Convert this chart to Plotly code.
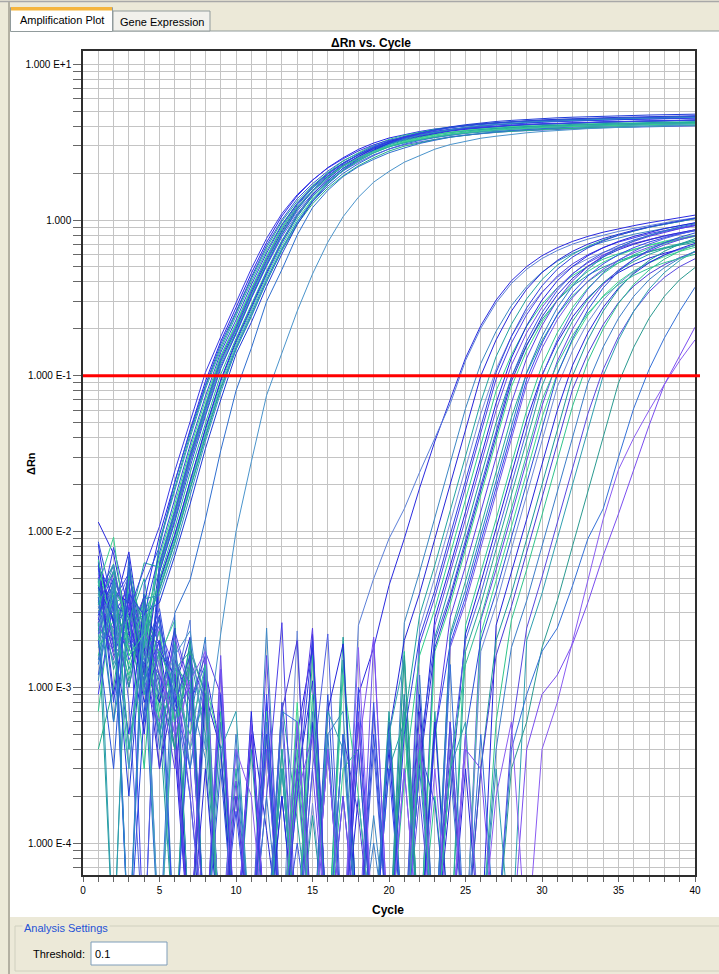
import math
import plotly.graph_objects as go

# ---------------------------------------------------------------
# qPCR amplification plot: delta Rn per cycle for every well
# All well values are delta Rn in units of 1e-3 (milli delta Rn)
# ---------------------------------------------------------------
cycles = list(range(1, 41))
threshold = 0.1
MILLI = 1e-3
FLOOR = 2e-5          # values at or below zero are drawn just under the visible range

# early-amplifying wells (high template)
early_01 = [8.3, 1.9, 0.5, 3.5, 9.5, 21, 45, 92, 166, 274, 454, 718, 1060, 1430, 1800, 2170, 2510, 2840, 3120, 3360, 3540, 3700, 3840, 3960, 4050, 4130, 4200, 4260, 4310, 4350, 4380, 4420, 4450, 4470, 4490, 4520, 4540, 4560, 4580, 4600]
early_02 = [2.6, -0.4, 5.9, 1.0, 8.7, 19, 42, 85, 153, 253, 419, 663, 980, 1320, 1660, 2010, 2320, 2620, 2890, 3100, 3270, 3420, 3550, 3660, 3740, 3820, 3880, 3930, 3980, 4020, 4050, 4080, 4110, 4130, 4150, 4170, 4190, 4210, 4230, 4250]
early_03 = [8.6, 3.3, -0.6, 4.6, 8, 21, 44, 87, 160, 258, 430, 688, 1005, 1370, 1710, 2060, 2400, 2690, 2980, 3190, 3380, 3520, 3660, 3770, 3860, 3940, 4000, 4060, 4100, 4140, 4170, 4210, 4230, 4260, 4280, 4300, 4320, 4340, 4360, 4380]
early_04 = [0.7, 4.4, 2.8, 0.3, 6.4, 14, 32, 66, 133, 212, 360, 583, 900, 1270, 1640, 2010, 2390, 2700, 3020, 3290, 3500, 3660, 3820, 3940, 4050, 4130, 4210, 4270, 4320, 4370, 4410, 4440, 4470, 4500, 4530, 4550, 4570, 4590, 4610, 4630]
early_05 = [7.0, 0.9, 3.9, 1.2, 6, 13, 30, 62, 125, 200, 340, 550, 850, 1200, 1550, 1900, 2250, 2550, 2850, 3100, 3300, 3450, 3600, 3720, 3820, 3900, 3970, 4030, 4080, 4120, 4160, 4190, 4220, 4250, 4270, 4290, 4310, 4330, 4350, 4370]
early_06 = [3.2, 6.1, 0.4, 2.7, 5.7, 12, 28, 59, 119, 190, 323, 523, 808, 1140, 1470, 1800, 2140, 2420, 2710, 2950, 3140, 3280, 3420, 3530, 3630, 3710, 3770, 3830, 3880, 3910, 3950, 3980, 4010, 4040, 4060, 4080, 4090, 4110, 4130, 4150]
early_07 = [0.9, 3.6, 5.4, -0.8, 6.2, 13.5, 31, 64, 129, 206, 350, 567, 876, 1240, 1600, 1960, 2320, 2630, 2940, 3190, 3400, 3550, 3710, 3830, 3930, 4020, 4090, 4150, 4200, 4240, 4280, 4320, 4350, 4380, 4400, 4420, 4440, 4460, 4480, 4500]
early_08 = [4.8, 0.6, 2.5, 6.3, 5.9, 12.7, 29, 61, 123, 196, 333, 539, 833, 1180, 1520, 1860, 2210, 2500, 2790, 3040, 3230, 3380, 3530, 3650, 3740, 3820, 3890, 3950, 4000, 4040, 4080, 4110, 4140, 4170, 4180, 4200, 4220, 4240, 4260, 4280]
early_09 = [2.9, 5.0, -1.2, 0.7, 4.7, 9.4, 21, 45, 92, 164, 271, 449, 711, 1050, 1420, 1780, 2150, 2490, 2810, 3090, 3330, 3510, 3670, 3810, 3920, 4010, 4090, 4160, 4220, 4260, 4310, 4340, 4370, 4400, 4430, 4450, 4470, 4490, 4510, 4530]
early_10 = [6.6, 2.0, 0.3, 3.1, 4.5, 9, 20, 43, 88, 158, 261, 432, 684, 1010, 1364, 1716, 2068, 2395, 2700, 2975, 3200, 3375, 3525, 3660, 3770, 3860, 3935, 4000, 4055, 4100, 4140, 4175, 4205, 4235, 4260, 4280, 4300, 4320, 4340, 4360]
early_11 = [1.4, 3.8, -0.9, 2.6, 4.3, 8.6, 19, 41, 84, 152, 251, 415, 657, 970, 1310, 1650, 1990, 2300, 2590, 2860, 3070, 3240, 3380, 3510, 3620, 3710, 3780, 3840, 3890, 3940, 3970, 4010, 4040, 4070, 4090, 4110, 4130, 4150, 4170, 4190]
early_12 = [11.5, 7.2, 2.3, 0.5, 4.8, 9.6, 21, 46, 94, 169, 279, 462, 732, 1080, 1460, 1840, 2210, 2560, 2890, 3180, 3420, 3610, 3770, 3920, 4030, 4130, 4210, 4280, 4340, 4390, 4430, 4470, 4500, 4530, 4560, 4580, 4600, 4620, 4640, 4670]
early_13 = [5.0, -0.6, 6.4, 1.8, 8.4, 18.6, 40, 82, 147, 243, 402, 636, 940, 1270, 1600, 1920, 2230, 2510, 2770, 2980, 3140, 3280, 3400, 3510, 3590, 3660, 3720, 3770, 3810, 3850, 3880, 3910, 3940, 3960, 3980, 4000, 4020, 4040, 4050, 4070]
early_14 = [2.2, 4.7, 0.8, -0.4, 5.5, 12, 28, 57, 115, 184, 313, 506, 782, 1100, 1430, 1750, 2070, 2350, 2620, 2850, 3040, 3170, 3310, 3420, 3510, 3590, 3650, 3710, 3750, 3790, 3830, 3850, 3880, 3910, 3930, 3950, 3970, 3980, 4000, 4020]
early_15 = [0.4, 1.0, 5.2, 2.4, 4.2, 8.4, 18.6, 40, 82, 147, 243, 402, 636, 940, 1270, 1600, 1920, 2230, 2510, 2770, 2980, 3140, 3280, 3400, 3510, 3590, 3660, 3720, 3770, 3810, 3850, 3880, 3910, 3940, 3960, 3980, 4000, 4020, 4040, 4050]
early_16 = [4.4, 2.7, 0.2, 3.0, 3.5, 7, 15, 34, 70, 138, 220, 374, 605, 935, 1320, 1700, 2090, 2470, 2800, 3130, 3400, 3620, 3790, 3960, 4090, 4200, 4290, 4360, 4430, 4490, 4530, 4570, 4610, 4640, 4670, 4690, 4720, 4740, 4760, 4780]
early_17 = [3.8, 0.6, 5.9, 1.3, -0.5, 3.0, 4.9, 12, 33, 80, 150, 300, 480, 800, 1200, 1550, 1900, 2200, 2450, 2700, 2900, 3100, 3250, 3400, 3500, 3600, 3680, 3750, 3810, 3860, 3910, 3950, 3990, 4020, 4050, 4080, 4100, 4120, 4140, 4160]
early_18 = [2.4, 4.5, 0.3, 3.1, -0.7, 1.6, 2.3, 0.4, 2.2, 10, 28, 75, 140, 260, 450, 720, 1050, 1400, 1750, 2050, 2350, 2600, 2850, 3050, 3200, 3350, 3450, 3550, 3630, 3700, 3760, 3810, 3860, 3900, 3940, 3970, 4000, 4030, 4050, 4070]
early_19 = [6.1, 0.8, 4.0, 2.9, 7.3, 16, 36, 74, 141, 228, 383, 613, 927, 1279, 1631, 1982, 2321, 2624, 2912, 3149, 3337, 3487, 3630, 3745, 3840, 3917, 3985, 4042, 4090, 4130, 4167, 4197, 4227, 4255, 4275, 4295, 4315, 4335, 4355, 4375]
early_20 = [3.4, 5.6, 0.4, 1.9, 5.0, 10.5, 23.8, 50, 102, 173, 289, 472, 739, 1068, 1410, 1752, 2092, 2397, 2691, 2946, 3153, 3310, 3455, 3579, 3681, 3764, 3833, 3895, 3945, 3987, 4026, 4057, 4086, 4115, 4137, 4156, 4176, 4195, 4215, 4234]
early_21 = [2.7, 7.9, 3.1, 5.8, 10.8, 24.5, 51.6, 105, 178, 298, 487, 762, 1101, 1454, 1806, 2157, 2471, 2774, 3037, 3250, 3412, 3562, 3690, 3795, 3880, 3952, 4015, 4067, 4110, 4150, 4182, 4212, 4242, 4265, 4285, 4305, 4325, 4345, 4365, 4385]
early_22 = [1.1, 4.9, -0.3, 3.7, 3.9, 7.7, 17, 38, 78, 148, 239, 402, 644, 973, 1343, 1713, 2081, 2437, 2755, 3058, 3306, 3504, 3661, 3812, 3932, 4032, 4113, 4184, 4244, 4295, 4337, 4375, 4407, 4438, 4468, 4489, 4510, 4531, 4552, 4573]
early_23 = [4.5, 9.2, 1.6, 2.2, 6.9, 15, 34, 70, 134, 217, 364, 582, 881, 1215, 1549, 1883, 2205, 2493, 2766, 2992, 3170, 3313, 3449, 3558, 3648, 3721, 3786, 3840, 3886, 3924, 3959, 3987, 4016, 4042, 4061, 4080, 4099, 4118, 4137, 4156]
early_24 = [2.0, 0.3, 6.9, 0.6, 5.5, 11.5, 26, 55, 111, 189, 316, 516, 808, 1167, 1541, 1914, 2286, 2619, 2940, 3219, 3445, 3617, 3776, 3911, 4023, 4113, 4189, 4256, 4311, 4357, 4399, 4433, 4465, 4497, 4521, 4542, 4563, 4585, 4606, 4627]

# late-amplifying wells (low template)
late_01 = [5.8, 3.1, 7.4, 1.6, 2.9, 0.6, -0.9, 1.3, 0.4, -1.6, -0.3, 0.8, -0.5, 0.25, 1.1, -1.2, -0.4, 0.9, 1.8, 4.5, 9, 19, 38, 70, 130, 210, 306, 407, 503, 590, 664, 729, 785, 835, 880, 920, 960, 1000, 1040, 1075]
late_02 = [4.2, 6.0, 1.8, 3.3, -0.4, 1.0, 2.7, -1.1, -0.5, -0.6, -0.7, -0.2, 0.6, -0.2, -0.9, -0.3, -1.0, 2.5, 5, 9, 14, 24, 40, 66, 125, 202, 294, 391, 483, 566, 637, 700, 754, 802, 845, 883, 922, 960, 998, 1032]
late_03 = [3.5, 2.0, 4.6, 1.2, 2.8, -0.6, 0.9, 0.35, -1.4, 0.2, -0.8, 2.4, -0.8, -0.3, -0.5, 0.5, 0.7, -1.3, 0.15, -0.4, 2.6, 5.5, 12.3, 27.6, 61.6, 120, 193, 282, 374, 463, 543, 611, 671, 722, 768, 810, 846, 883, 920, 957]
late_04 = [6.3, 2.5, 1.7, 3.9, 0.8, 1.9, -0.5, 0.3, -1.1, -1.8, 0.6, 0.12, -0.4, -0.7, 2.2, -0.9, 0.2, -0.3, -0.6, 0.5, 2.0, 4, 9, 20, 45, 100, 170, 260, 360, 460, 550, 630, 700, 760, 810, 860, 900, 940, 980, 1020]
late_05 = [2.1, 4.9, 3.0, 0.6, 1.5, 2.9, -1.0, 0.7, -0.2, -0.3, -0.9, -1.5, -0.4, -0.6, 0.18, -0.7, -0.2, -1.3, -0.2, -0.3, -1.1, 2.4, 5.1, 11.4, 25.5, 57, 110, 179, 260, 346, 428, 502, 564, 620, 667, 710, 748, 782, 816, 850]
late_06 = [4.7, 1.3, 2.6, 5.0, 1.1, -0.2, 1.6, 0.5, -0.8, 0.3, -1.7, -0.4, 0.8, 0.14, -0.5, -0.1, 1.5, -1.4, -0.3, 0.3, 0.6, 2.9, 6.1, 13.7, 31, 68, 133, 214, 312, 415, 513, 602, 677, 744, 801, 852, 898, 938, 979, 1020]
late_07 = [3.0, 5.6, 2.2, 1.4, 0.5, 2.3, 1.0, -1.3, 0.6, -0.5, -0.4, 0.2, 2.6, -1.1, -0.3, 0.4, -0.6, -0.2, 0.7, -0.9, -0.2, 1.9, 3.8, 8.6, 19, 43, 95, 162, 247, 342, 437, 523, 599, 665, 722, 770, 817, 855, 893, 931]
late_08 = [1.6, 3.4, 4.1, 2.0, -0.3, 1.2, 0.4, 0.9, -1.6, -0.2, -0.35, -0.5, -0.8, 0.3, -1.2, -0.6, -0.3, -0.1, -1.0, -0.7, 0.25, 1.6, 3.2, 7.2, 16, 36, 80, 136, 208, 288, 368, 440, 504, 560, 608, 648, 688, 720, 752, 784]
late_09 = [5.1, 2.7, 1.0, 3.1, 1.9, 0.4, -0.8, 1.5, -0.6, -0.2, 0.7, -1.4, -0.3, 0.5, 1.8, -0.6, -0.9, 0.2, -1.0, 0.6, -0.4, 0.3, 2.8, 6, 13.4, 30, 67, 130, 210, 306, 407, 503, 590, 664, 729, 785, 835, 880, 920, 960]
late_10 = [2.8, 1.5, 3.7, 0.9, 2.4, 1.3, 0.2, -1.2, -1.0, -0.4, -0.5, -0.6, -0.2, -0.9, 0.3, -0.22, -0.3, -1.1, -0.5, -1.5, 0.9, -0.2, 2.5, 5.4, 12, 27, 60, 117, 189, 275, 366, 453, 531, 598, 656, 707, 752, 792, 828, 864]
late_11 = [3.9, 6.2, 1.9, 2.5, 0.6, -0.4, 1.8, 0.9, -0.7, -0.3, 0.4, -1.8, 0.4, -0.5, 0.15, -0.2, 2.1, -1.0, -0.3, 0.7, -0.6, -0.5, 2.1, 4.5, 10, 22.5, 50, 98, 158, 230, 305, 377, 443, 498, 547, 589, 626, 660, 690, 720]
late_12 = [1.2, 4.4, 2.9, 1.7, 3.2, 0.8, 1.4, -0.6, -0.3, -0.7, -1.2, -0.9, -0.4, 0.1, -0.4, -0.5, -0.6, -0.9, 0.8, -0.2, -0.3, 0.4, 2.0, 3.9, 8.8, 19.6, 44, 98, 167, 255, 353, 451, 539, 617, 686, 745, 794, 843, 882, 921]
late_13 = [5.4, 3.0, 2.1, 0.9, 1.6, 2.7, -0.5, 1.1, 0.4, -1.4, -0.3, 0.7, -0.2, 0.25, -0.8, -0.5, 1.2, 0.2, -1.1, -0.4, 0.6, -0.4, 1.7, 3.4, 7.7, 17, 38, 85, 145, 221, 306, 391, 468, 536, 595, 646, 689, 731, 765, 799]
late_14 = [2.4, 2.0, 5.3, 1.8, 0.3, 1.0, 2.1, -0.9, -0.6, -0.2, -0.6, -0.6, -1.0, -1.6, -0.2, 0.4, -0.3, -0.13, -0.5, -0.8, -0.6, 0.3, 1.8, 3.7, 8.3, 18.4, 41, 92, 156, 239, 331, 423, 506, 580, 644, 699, 745, 791, 828, 865]
late_15 = [4.5, 1.8, 3.3, 2.6, 1.2, 0.5, -1.0, 1.7, 0.9, -0.3, -0.7, 0.4, -1.3, 0.3, 2.4, -0.5, -0.2, 0.6, -0.4, -0.7, 0.3, -0.3, 0.5, 2.8, 6, 13.4, 30, 67, 130, 210, 306, 407, 503, 590, 664, 729, 785, 835, 880, 920]
late_16 = [2.0, 3.6, 1.1, 4.0, 0.7, 1.5, 0.9, -0.4, -0.5, -1.5, -0.6, -0.2, 0.3, -0.7, -0.4, -0.8, -1.2, -0.2, -0.4, -0.2, 0.7, -0.9, -0.1, 2.2, 4.8, 10.7, 24, 54, 104, 168, 245, 326, 402, 472, 531, 583, 628, 668, 704, 736]
late_17 = [6.0, 3.8, 1.5, 2.2, 1.9, -0.7, 0.8, 1.4, -0.2, 0.16, -0.5, 0.9, -1.0, 0.6, -0.3, -0.6, -0.6, 1.0, -0.4, 0.3, -0.2, -0.3, 0.5, 1.9, 3.8, 8.6, 19, 43, 95, 162, 247, 342, 437, 523, 599, 665, 722, 770, 817, 855]
late_18 = [3.3, 2.4, 4.8, 0.9, 2.0, 1.1, 0.3, -1.1, 1.6, -0.4, -0.6, 0.4, -0.2, -0.3, 0.6, -1.4, 0.2, -0.5, 2.0, -0.5, -0.3, 0.4, -0.6, 1.8, 3.5, 7.9, 17.6, 40, 88, 150, 229, 317, 405, 484, 554, 616, 669, 713, 757, 792]
late_19 = [1.5, 5.0, 2.7, 3.4, 0.4, 1.7, 0.6, 2.1, -0.8, -0.3, -0.4, -1.2, -0.8, -0.3, -0.4, 0.5, -0.1, -0.9, -0.3, -0.7, -0.2, 0.4, -0.5, 2.1, 4.2, 9.5, 21, 47, 105, 179, 273, 378, 483, 578, 662, 735, 798, 851, 903, 945]
late_20 = [4.0, 2.3, 1.2, 2.9, 1.4, 0.6, 1.9, -0.5, 0.7, -1.3, -0.2, 0.5, -0.6, -0.1, 0.9, -0.7, 0.3, 0.4, -1.0, -0.2, 1.7, -0.3, 0.2, -0.4, 2.5, 5.4, 12, 27, 60, 117, 189, 275, 366, 453, 531, 598, 656, 707, 752, 792]
late_21 = [2.6, 4.1, 3.5, 1.3, 0.8, 2.4, -0.3, 1.2, -0.5, -0.5, -0.9, -0.2, -0.4, -0.5, 0.6, -0.4, -1.6, -0.3, -0.3, -0.2, -0.4, 0.9, -0.6, 0.2, 2.2, 4.7, 10.5, 23, 52, 101, 164, 239, 317, 392, 460, 518, 569, 612, 651, 686]
late_22 = [5.7, 1.9, 2.8, 1.0, 1.8, 0.9, 0.2, -0.8, 1.3, -0.3, -0.4, 0.6, -1.1, -0.2, 0.3, 2.2, -0.2, -0.6, 0.4, -0.9, -0.3, 0.5, -0.1, 0.3, 2.0, 4, 9, 20, 45, 100, 170, 260, 360, 460, 550, 630, 700, 760, 810, 860]
late_23 = [3.1, 3.9, 1.6, 2.3, 0.5, 1.3, 1.7, -0.6, -0.4, -0.2, -0.5, -0.9, 0.4, -1.3, -0.3, -0.5, -0.5, -0.2, -0.7, -0.6, -0.8, -0.2, 0.7, -0.3, 1.7, 3.4, 7.7, 17, 39, 86, 146, 224, 310, 396, 473, 542, 602, 654, 697, 740]
late_24 = [2.2, 2.9, 4.4, 1.9, 1.1, 0.3, 1.5, 0.8, -1.0, 0.25, -0.4, 1.6, -0.7, 0.3, -0.5, -0.3, -0.4, 0.7, -1.2, 0.5, -0.3, 0.2, -0.3, 0.6, -0.2, 2.7, 5.7, 12.7, 28.5, 64, 124, 200, 291, 387, 478, 561, 631, 693, 746, 793]
late_25 = [4.9, 2.2, 1.4, 3.6, 0.6, 2.0, -0.5, 0.9, -0.3, -0.3, -0.5, -0.8, -1.4, 0.8, -0.3, -0.4, -0.5, -0.6, -1.9, -0.2, -0.2, 0.4, -0.6, -0.3, -0.4, 2.2, 4.8, 10.7, 24, 54, 104, 168, 245, 326, 402, 472, 531, 583, 628, 668]
late_26 = [3.6, 1.7, 2.5, 1.4, 2.8, 0.7, 1.0, -0.9, 0.3, -0.6, 0.6, -0.5, 0.2, -0.4, -1.0, 0.9, -0.2, -0.2, 0.5, -0.3, -0.7, 0.4, 0.18, -0.3, 0.5, 2.0, 4.1, 9.2, 20, 46, 102, 173, 265, 367, 469, 561, 643, 714, 775, 826]
late_27 = [1.9, 3.2, 5.2, 2.1, 0.9, 1.6, 0.4, 1.9, -0.6, -0.7, -1.3, -0.3, -0.3, 2.3, -0.4, -0.6, -0.2, -0.5, -0.8, -0.5, -0.4, -0.1, -0.4, 0.5, -0.2, 1.7, 3.4, 7.7, 17, 38, 85, 145, 221, 306, 391, 468, 536, 595, 646, 689]
late_28 = [6.4, 2.6, 3.1, 0.8, 1.7, 1.2, -0.4, 0.9, 0.4, -0.9, 0.5, -0.5, 0.2, -0.6, -0.4, 0.7, 1.9, -1.1, -0.3, 0.4, -0.5, -0.3, 0.6, -0.2, 0.3, -0.4, 2.5, 5.4, 12, 27, 60, 117, 189, 275, 366, 453, 531, 598, 656, 707]
late_29 = [2.9, 4.6, 1.3, 2.7, 1.0, 0.4, 2.0, -0.7, -1.1, -0.5, -0.2, -0.7, 0.3, -1.5, -0.3, -0.6, -0.3, -0.5, -0.4, -0.2, 0.9, -0.4, -0.2, -0.5, -0.6, 0.3, 2.0, 4, 9, 20, 45, 100, 170, 260, 360, 460, 550, 630, 700, 760]
late_30 = [4.3, 1.6, 2.2, 3.8, 0.3, 1.5, 0.8, 1.6, -0.9, 0.2, -0.3, -0.4, 0.7, 2.0, -0.8, -0.4, 0.5, 0.15, -0.3, -0.6, -1.0, 0.7, -0.3, 0.4, -0.2, 0.3, 1.6, 3.3, 7.4, 16.4, 37, 82, 139, 213, 295, 377, 451, 517, 574, 623]
late_31 = [3.4, 3.0, 1.8, 1.1, 2.3, 0.6, 1.4, -0.5, -0.8, -0.4, -1.1, -0.4, -0.3, -0.3, 1.6, -0.6, -0.5, -0.2, -0.4, -0.3, -0.8, 0.5, -0.7, -0.4, -0.3, -0.2, 0.6, 2.7, 5.7, 12.7, 28.5, 64, 124, 200, 291, 387, 478, 561, 631, 693]
late_32 = [5.0, 2.0, 3.9, 1.5, 0.9, 1.8, 0.3, 1.2, -0.8, 0.5, -0.5, 0.2, -0.4, -0.3, 0.7, -1.2, 0.5, -0.4, 0.1, -0.6, -0.6, 1.2, -0.3, 0.3, -0.2, -0.5, 0.4, 1.8, 3.6, 8.1, 18, 40.5, 90, 153, 234, 324, 414, 495, 567, 630]
late_33 = [2.3, 5.5, 2.4, 1.7, 1.2, 0.7, -0.3, 1.5, -0.6, -0.4, -0.9, -0.4, 0.8, -0.5, -0.4, -0.6, -0.2, -1.3, -0.3, -1.1, -0.3, -0.2, -0.5, 0.6, -0.4, -0.4, -0.2, 0.5, 2.4, 5.1, 11.4, 25.5, 57, 110, 179, 260, 346, 428, 502, 564]
late_34 = [3.8, 1.4, 2.6, 2.9, 0.5, 1.3, 1.1, -0.6, 0.4, 0.7, -0.5, -1.0, 0.3, -0.4, -0.3, 0.7, 0.4, -0.6, -0.8, 0.5, 1.5, -0.2, -0.5, 0.3, 0.6, -0.3, 0.3, -0.2, 2.0, 4, 9, 20, 45, 100, 170, 260, 360, 460, 550, 630]
late_35 = [4.6, 2.8, 1.0, 3.2, 1.6, 0.4, 1.7, 0.9, -0.7, -0.3, -0.2, -0.5, -0.5, 0.6, -0.3, -1.1, -0.5, -0.2, -0.3, -0.4, 1.6, -0.4, -0.2, -0.4, -0.6, -0.4, -0.6, 0.3, 0.6, 1.8, 3.6, 8.1, 18, 40.5, 90, 153, 234, 324, 414, 495]
late_36 = [3.0, 4.2, 2.0, 1.5, 2.5, 0.8, 0.3, 1.4, -0.6, 0.4, -0.4, -1.2, 0.7, 0.6, -0.2, -0.4, 0.5, -0.6, -0.8, 0.5, -0.3, 0.3, -0.2, 1.4, -0.4, 0.5, -0.5, 0.4, 0.9, 1.7, 2.4, 4.5, 9, 14, 30, 62, 110, 175, 260, 370]
late_37 = [2.5, 1.7, 3.4, 1.0, 0.6, 2.1, 0.9, -0.4, 1.3, -0.3, 0.6, -0.9, -0.2, 0.2, 0.5, -0.6, -0.4, 0.4, 2.1, -0.3, -0.4, 0.5, -1.0, -0.3, 0.4, 0.3, -0.2, -0.5, 0.4, 0.9, 1.2, 1.9, 3.5, 7, 13, 25, 48, 88, 135, 205]
late_38 = [5.3, 2.2, 1.9, 2.4, 1.4, 0.5, 1.1, 1.7, -0.5, 0.4, 0.2, -0.6, -0.8, 0.6, -0.3, 0.4, -0.3, 1.8, -0.4, -1.2, 0.3, -0.2, 0.3, -0.4, 0.5, -0.5, 0.2, 0.6, -0.6, 0.4, 0.8, 2.0, 5.0, 12, 25, 40, 60, 88, 125, 170]
late_39 = [4.0, 3.5, 2.8, 1.1, 2.0, 0.8, 1.6, -0.4, 0.9, -0.3, -1.0, 0.5, -0.4, 0.2, 2.0, -0.6, -0.2, 0.4, -0.7, -0.3, 0.5, 2.1, 4.2, 9.5, 21, 47, 105, 179, 273, 378, 483, 578, 662, 735, 798, 851, 903, 945, 987, 1029]
late_40 = [1.8, 2.7, 4.0, 0.9, 1.7, 1.0, 0.5, 1.4, -0.7, -0.3, -0.6, -0.4, -0.3, 0.4, -1.2, -0.3, -0.5, -0.8, -0.1, -0.5, -0.3, 0.4, -0.2, 0.3, 1.4, 2.8, 6.3, 14, 31.5, 70, 119, 182, 252, 322, 385, 441, 490, 532, 567, 602]

early_wells = [early_01, early_02, early_03, early_04, early_05, early_06, early_07, early_08,
               early_09, early_10, early_11, early_12, early_13, early_14, early_15, early_16,
               early_17, early_18, early_19, early_20, early_21, early_22, early_23, early_24]
late_wells = [late_01, late_02, late_03, late_04, late_05, late_06, late_07, late_08, late_09, late_10,
              late_11, late_12, late_13, late_14, late_15, late_16, late_17, late_18, late_19, late_20,
              late_21, late_22, late_23, late_24, late_25, late_26, late_27, late_28, late_29, late_30,
              late_31, late_32, late_33, late_34, late_35, late_36, late_37, late_38, late_39, late_40]

early_colors = ["#2323e8", "#1f9e9a", "#3050dc", "#2bc48c", "#2a2ad0", "#3d84c6", "#4040ee", "#20a5a0",
                "#1e3fe0", "#3ad48f", "#2b6ad6", "#2727dd", "#2e9cb0", "#5060e0", "#21b088", "#1f3ad8",
                "#2f6fd0", "#4a94cc", "#2b40e4", "#24b29a", "#3a3ae6", "#2f8fc0", "#38cf90", "#2a55d8"]
late_colors = ["#2a2ae0", "#5b7fd8", "#3c86c4", "#2626d8", "#7a8fd8", "#23a3a0", "#4b3fe6", "#2fcf8c", "#2020e0", "#6a4ae8",
               "#1e9b9b", "#3a55e0", "#38d48e", "#2b2bd4", "#5a3ce6", "#22aa96", "#3344ee", "#7052ea", "#2c79c8", "#2ec890",
               "#1f1fd8", "#4f5ee2", "#26a39a", "#5f44e6", "#3dd98f", "#2a4fd8", "#6e8ad6", "#2424dc", "#1d9a98", "#4a3ad8",
               "#30c48c", "#3b7cc8", "#5848e0", "#2f9fb0", "#2a9a90", "#3470d8", "#7a4df0", "#8a5cf2", "#2f3fe0", "#33bf96"]

x_tick_vals = [0, 5, 10, 15, 20, 25, 30, 35, 40]
y_tick_vals = [1e-4, 1e-3, 1e-2, 1e-1, 1, 10]
y_tick_text = ["1.000 E-4", "1.000 E-3", "1.000 E-2", "1.000 E-1", "1.000", "1.000 E+1"]

# ---------------------------------------------------------------
# page geometry (pixels) and styling
# ---------------------------------------------------------------
W, H = 719, 974
PL, PR, PT, PB = 83, 695, 51, 875
Y_RANGE = [-4.205, 1.085]
FONT = "Liberation Sans, Arial, sans-serif"
BEIGE = "#ece9d8"
GRID = "#c4c4c4"
FRAME = "#2e2e2e"
TAB_EDGE = "#919b9c"


def fx(p):
    return (p - PL) / (PR - PL)


def fy(p):
    return (PB - p) / (PB - PT)


def to_plot(vals):
    return [v * MILLI if v > 0 else FLOOR for v in vals]


fig = go.Figure()
for vals, col in zip(late_wells + early_wells, late_colors + early_colors):
    fig.add_trace(go.Scatter(
        x=cycles, y=to_plot(vals), mode="lines",
        line=dict(color=col, width=1), hoverinfo="skip", showlegend=False))

y_minor = [m * 10.0 ** e for e in range(-5, 2) for m in range(2, 10)
           if Y_RANGE[0] <= math.log10(m * 10.0 ** e) <= Y_RANGE[1]]

shapes = [
    # white chart panel and window chrome
    dict(type="rect", xref="paper", yref="paper", x0=fx(10), x1=fx(719), y0=fy(917), y1=fy(31),
         fillcolor="white", line=dict(width=0), layer="below"),
    dict(type="line", xref="paper", yref="paper", x0=fx(0), x1=fx(719), y0=fy(1.5), y1=fy(1.5),
         line=dict(color="#a8a8a8", width=1.5), layer="below"),
    dict(type="line", xref="paper", yref="paper", x0=fx(9), x1=fx(9), y0=fy(2), y1=fy(974),
         line=dict(color="#b3b0a2", width=2), layer="below"),
    dict(type="line", xref="paper", yref="paper", x0=fx(112), x1=fx(719), y0=fy(31), y1=fy(31),
         line=dict(color=TAB_EDGE, width=1), layer="below"),
    # tabs
    dict(type="rect", xref="paper", yref="paper", x0=fx(113), x1=fx(210), y0=fy(31), y1=fy(11),
         fillcolor="#f2f1ec", line=dict(color=TAB_EDGE, width=1), layer="below"),
    dict(type="rect", xref="paper", yref="paper", x0=fx(10.5), x1=fx(112.5), y0=fy(31.5), y1=fy(7.5),
         fillcolor="white", line=dict(color=TAB_EDGE, width=1), layer="below"),
    dict(type="rect", xref="paper", yref="paper", x0=fx(11), x1=fx(112), y0=fy(10.5), y1=fy(7),
         fillcolor="#f5b53d", line=dict(width=0), layer="below"),
    # analysis settings group box
    dict(type="path", xref="paper", yref="paper", layer="below",
         path="M {a},{b} L {c},{b} L {c},{d} L {a},{d} Z".format(
             a=fx(15), b=fy(926), c=fx(730), d=fy(971)),
         line=dict(color="#d0d0bf", width=1)),
    dict(type="rect", xref="paper", yref="paper", x0=fx(91), x1=fx(167), y0=fy(965), y1=fy(942),
         fillcolor="white", line=dict(color="#7f9db9", width=1), layer="below"),
    # threshold line
    dict(type="line", xref="paper", yref="y", x0=0, x1=fx(700), y0=threshold, y1=threshold,
         line=dict(color="#ff0000", width=3), layer="above"),
]

annotations = [
    dict(text="Amplification Plot", x=fx(62), y=fy(20), font=dict(size=11, color="#000000")),
    dict(text="Gene Expression", x=fx(162), y=fy(21.5), font=dict(size=11, color="#000000")),
    dict(text="<b>\u0394Rn vs. Cycle</b>", x=fx(371), y=fy(43), font=dict(size=12, color="#000000")),
    dict(text="<b>\u0394Rn</b>", x=fx(31), y=fy(464), textangle=-90, font=dict(size=11, color="#000000")),
    dict(text="<b>Cycle</b>", x=fx(388), y=fy(910), font=dict(size=12, color="#000000")),
    dict(text="Analysis Settings", x=fx(22), y=fy(928), xanchor="left", bgcolor=BEIGE,
         font=dict(size=11, color="#1f52d6")),
    dict(text="Threshold:", x=fx(31), y=fy(954), xanchor="left", font=dict(size=11, color="#000000")),
    dict(text=str(threshold), x=fx(93), y=fy(954), xanchor="left", font=dict(size=11, color="#000000")),
]
for a in annotations:
    a.update(xref="paper", yref="paper", showarrow=False)
    a.setdefault("xanchor", "center")
    a.setdefault("yanchor", "middle")

fig.update_layout(
    width=W, height=H, autosize=False,
    margin=dict(l=PL, r=W - PR, t=PT, b=H - PB, pad=0),
    paper_bgcolor=BEIGE, plot_bgcolor="white",
    font=dict(family=FONT, size=10, color="#000000"),
    showlegend=False,
    shapes=shapes,
    annotations=annotations,
    xaxis=dict(
        range=[0, 40], tickmode="array", tickvals=x_tick_vals,
        ticks="outside", ticklen=5, tickwidth=1, tickcolor="#666666",
        showgrid=True, gridcolor=GRID, gridwidth=1.2, zeroline=False,
        showline=True, mirror=True, linecolor=FRAME, linewidth=1.5,
        tickfont=dict(size=10, family=FONT),
        minor=dict(dtick=1, tick0=0, ticks="outside", ticklen=5, tickcolor="#666666",
                   showgrid=True, gridcolor=GRID, gridwidth=1.2),
    ),
    yaxis=dict(
        type="log", range=Y_RANGE, tickmode="array", tickvals=y_tick_vals, ticktext=y_tick_text,
        ticks="outside", ticklen=8, tickwidth=1, tickcolor="#666666",
        showgrid=True, gridcolor=GRID, gridwidth=1.2, zeroline=False,
        showline=True, mirror=True, linecolor=FRAME, linewidth=1.5,
        tickfont=dict(size=10, family=FONT),
        minor=dict(tickmode="array", tickvals=y_minor, ticks="outside", ticklen=8,
                   tickcolor="#666666", showgrid=True, gridcolor=GRID, gridwidth=1.2),
    ),
)

fig.write_html("out.html")
